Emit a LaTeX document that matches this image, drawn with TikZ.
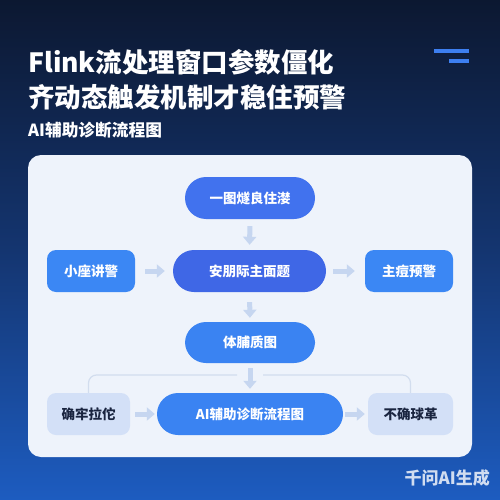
\documentclass[tikz,border=0pt]{standalone}
\usepackage{fontspec}
\setmainfont{Noto Sans CJK SC}
\usetikzlibrary{arrows.meta,shapes.misc}
\definecolor{bgtop}{HTML}{0C1831}
\definecolor{bgmid}{HTML}{143570}
\definecolor{bgbot}{HTML}{1D5CC0}
\definecolor{panel}{HTML}{EEF3FB}
\definecolor{pillA}{HTML}{4172EE}
\definecolor{pillB}{HTML}{3F67E6}
\definecolor{boxC}{HTML}{3B87F4}
\definecolor{pillD}{HTML}{3A83F2}
\definecolor{light}{HTML}{D3E0F7}
\definecolor{darktext}{HTML}{1A2540}
\definecolor{arrowc}{HTML}{C6D6F0}
\definecolor{linec}{HTML}{D2DDEE}
\definecolor{iconc}{HTML}{3D7FF0}
\tikzset{
  pill/.style={draw=none, text=white, font=\bfseries\fontsize{13.5}{15}\selectfont, minimum height=42pt, inner sep=0pt, rounded corners=21pt},
  sidebox/.style={draw=none, fill=boxC, text=white, font=\bfseries\fontsize{13.5}{15}\selectfont, minimum height=42pt, minimum width=88pt, inner sep=0pt, rounded corners=9pt},
  lightbox/.style={draw=none, fill=light, text=darktext, font=\bfseries\fontsize{13.5}{15}\selectfont, minimum height=42pt, inner sep=0pt, rounded corners=9pt},
  flow/.style={arrowc, line width=5pt, -{Triangle[width=13pt,length=8pt]}},
  bracket/.style={linec, line width=1.2pt, rounded corners=8pt}
}
\begin{document}
\begin{tikzpicture}[x=1pt,y=-1pt]
\useasboundingbox (0,0) rectangle (500,500);
% background
\shade[top color=bgtop, bottom color=bgbot, middle color=bgmid] (0,0) rectangle (500,500);
% title
\node[anchor=west, text=white, font=\bfseries\fontsize{26.5}{30}\selectfont, inner sep=0pt] (t1) at (28,62) {Flink流处理窗口参数僵化};
\node[anchor=west, text=white, font=\bfseries\fontsize{26.5}{30}\selectfont, inner sep=0pt] (t2) at (28,97) {齐动态触发机制才稳住预警};
\node[anchor=west, text=white, font=\bfseries\fontsize{16.7}{19}\selectfont, inner sep=0pt] (t3) at (28,130) {AI辅助诊断流程图};
% icon
\draw[iconc, line width=4pt] (434,51.5) -- (469,51.5);
\draw[iconc, line width=4pt] (449,61) -- (469,61);
% panel
\fill[panel, rounded corners=13pt] (28,155) rectangle (472,457);
% nodes
\node[pill, fill=pillA, minimum width=130pt] (n1) at (250,198) {一图燧良住漤};
\node[sidebox] (n2l) at (91,271) {小座讲警};
\node[pill, fill=pillB, minimum width=153pt] (n2) at (249.5,271) {安朋际主面题};
\node[sidebox] (n2r) at (409,271) {主痘预警};
\node[pill, fill=pillD, minimum width=130pt, minimum height=41pt] (n3) at (250,342.5) {体脯质图};
\node[lightbox, minimum width=83pt] (bl) at (88.5,414) {确牢拉佗};
\node[pill, fill=pillD, minimum width=186pt] (ai) at (250,414) {AI辅助诊断流程图};
\node[lightbox, minimum width=85pt] (br) at (410.5,414) {不确球革};
% arrows
\draw[flow, shorten <=7pt, shorten >=5pt] (n1.south) -- (n2.north);
\draw[flow, shorten <=10pt, shorten >=8pt] (n2l.east) -- (n2.west);
\draw[flow, shorten <=7pt, shorten >=10pt] (n2.east) -- (n2r.west);
\draw[flow, shorten <=10pt, shorten >=4pt] (n2.south) -- (n3.north);
\draw[flow, shorten <=5pt, shorten >=4pt] (n3.south) -- (ai.north);
\draw[flow, shorten <=5pt, shorten >=2pt] (bl.east) -- (ai.west);
\draw[flow, shorten <=2pt, shorten >=3pt] (ai.east) -- (br.west);
% bracket
\coordinate (gl) at (237,375);
\coordinate (gr) at (263,375);
\draw[bracket] (bl.north) |- (gl);
\draw[bracket] (gr) -| (br.north);
% watermark
\node[anchor=east, text=white, opacity=0.8, font=\bfseries\fontsize{17}{20}\selectfont, inner sep=0pt] (wm) at (490,478) {千问AI生成};
\end{tikzpicture}
\end{document}
